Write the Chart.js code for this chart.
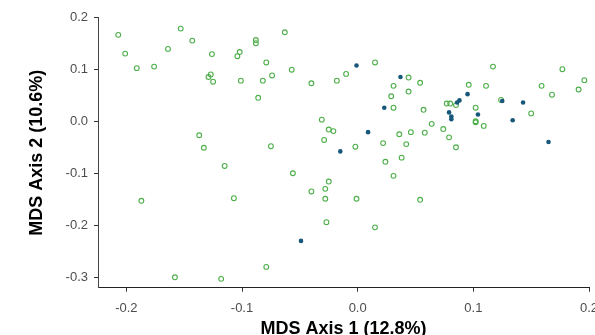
<!DOCTYPE html>
<html>
    <head>
        <title>MDS plot</title>
        <meta charset="utf-8">
        <style>
            html, body { margin: 0; padding: 0; overflow: hidden; background: #fff; }
            #chart { display: block; }
        </style>
    </head>
    <body>
        <canvas id="chart" width="610" height="340"></canvas>
        <script src="https://cdn.jsdelivr.net/npm/chart.js@4.4.1/dist/chart.umd.min.js"></script>
        <script>
            // open green circles
            var greenX = [-0.207, -0.201, -0.191, -0.176, -0.164, -0.153, -0.143, -0.126, -0.127, -0.129, -0.125, -0.102, -0.104, -0.088, -0.088, -0.101, -0.082, -0.086, -0.137, -0.133,
                          -0.079, -0.074, -0.063, -0.057, -0.115, -0.075, -0.040, 0.015, -0.010, -0.018, 0.044, 0.054, 0.031, 0.044, 0.029, 0.031, 0.057, -0.031, -0.025, -0.021,
                          0.036, 0.046, 0.058, -0.029, 0.022, 0.042, -0.002, 0.024, 0.038, 0.064, 0.074, 0.079, 0.085, 0.077, 0.080, 0.085, 0.096, 0.111, 0.117, 0.102,
                          0.102, 0.102, 0.109, 0.124, 0.150, 0.159, 0.168, 0.177, 0.191, 0.196, -0.056, 0.031, -0.025, -0.028, -0.040, -0.028, -0.001, 0.054, -0.027, 0.015,
                          -0.079, -0.187, -0.107, -0.158, -0.118];
            var greenY = [0.167, 0.131, 0.103, 0.106, 0.140, 0.179, 0.156, 0.130, 0.091, 0.086, 0.077, 0.134, 0.126, 0.157, 0.151, 0.079, 0.079, 0.046, -0.026, -0.050,
                          0.114, 0.089, 0.172, 0.100, -0.085, -0.047, 0.074, 0.114, 0.092, 0.079, 0.085, 0.075, 0.069, 0.058, 0.049, 0.027, 0.023, 0.004, -0.015, -0.018,
                          -0.024, -0.020, -0.021, -0.035, -0.041, -0.043, -0.048, -0.077, -0.069, -0.004, -0.014, -0.030, -0.049, 0.035, 0.035, 0.032, 0.071, 0.069, 0.106, 0.027,
                          0.001, -0.001, -0.008, 0.042, 0.016, 0.069, 0.052, 0.101, 0.062, 0.080, -0.099, -0.104, -0.115, -0.129, -0.134, -0.148, -0.148, -0.150, -0.193, -0.203,
                          -0.279, -0.152, -0.147, -0.299, -0.302];
            // filled blue dots
            var blueX = [-0.001, 0.037, 0.023, 0.009, -0.015, -0.049, 0.086, 0.088, 0.095, 0.079, 0.081, 0.081, 0.104, 0.125, 0.143, 0.134, 0.165];
            var blueY = [0.108, 0.086, 0.027, -0.020, -0.057, -0.229, 0.037, 0.041, 0.053, 0.018, 0.010, 0.005, 0.014, 0.040, 0.037, 0.003, -0.039];

            var xTitle = 'MDS Axis 1 (12.8%)';
            var yTitle = 'MDS Axis 2 (10.6%)';

            function toPoints(xs, ys) {
                return xs.map(function(x, i) { return {x: x, y: ys[i]}; });
            }
            function fmt(v) {
                return Math.abs(v) < 1e-9 ? '0.0' : v.toFixed(1);
            }

            Chart.defaults.font.family = "'Liberation Sans', Arial, Helvetica, sans-serif";

            var axisGrid = {
                display: true,
                drawOnChartArea: false,
                drawTicks: true,
                tickLength: 4,
                tickColor: '#333333',
                tickWidth: 1
            };

            var ctx = document.getElementById('chart').getContext('2d');
            var chart = new Chart(ctx, {
                type: 'scatter',
                data: {
                    datasets: [{
                        label: 'blue',
                        data: toPoints(blueX, blueY),
                        order: 0,
                        pointRadius: 2.3,
                        pointBorderWidth: 0,
                        backgroundColor: '#17577a',
                        borderColor: '#17577a'
                    }, {
                        label: 'green',
                        data: toPoints(greenX, greenY),
                        order: 1,
                        pointRadius: 2.4,
                        pointBorderWidth: 1.1,
                        backgroundColor: 'rgba(0,0,0,0)',
                        borderColor: '#4daf4a'
                    }]
                },
                options: {
                    responsive: false,
                    animation: false,
                    layout: { padding: { left: 22, top: 17.7, right: 21, bottom: 0 } },
                    plugins: {
                        legend: { display: false },
                        tooltip: { enabled: false }
                    },
                    scales: {
                        x: {
                            type: 'linear',
                            min: -0.2245,
                            max: 0.2,
                            grid: axisGrid,
                            border: { display: true, color: '#222222', width: 1 },
                            ticks: {
                                stepSize: 0.1,
                                includeBounds: false,
                                color: '#4d4d4d',
                                font: { size: 13 },
                                padding: 8.5,
                                callback: function(v) { return fmt(v); }
                            },
                            title: {
                                display: true,
                                text: xTitle,
                                color: '#000000',
                                font: { size: 18, weight: 'bold' },
                                padding: { top: 0, bottom: 0 }
                            },
                            afterFit: function(scale) { scale.height = 52.3; }
                        },
                        y: {
                            type: 'linear',
                            min: -0.319,
                            max: 0.2,
                            grid: axisGrid,
                            border: { display: true, color: '#444444', width: 1 },
                            ticks: {
                                stepSize: 0.1,
                                includeBounds: false,
                                color: '#4d4d4d',
                                font: { size: 13 },
                                padding: 6,
                                callback: function(v) { return fmt(v); }
                            },
                            title: {
                                display: true,
                                text: yTitle,
                                color: '#000000',
                                font: { size: 18, weight: 'bold' },
                                padding: { top: 4, bottom: 0 }
                            },
                            afterFit: function(scale) { scale.width = 76; }
                        }
                    }
                }
            });
        </script>
    </body>
</html>
